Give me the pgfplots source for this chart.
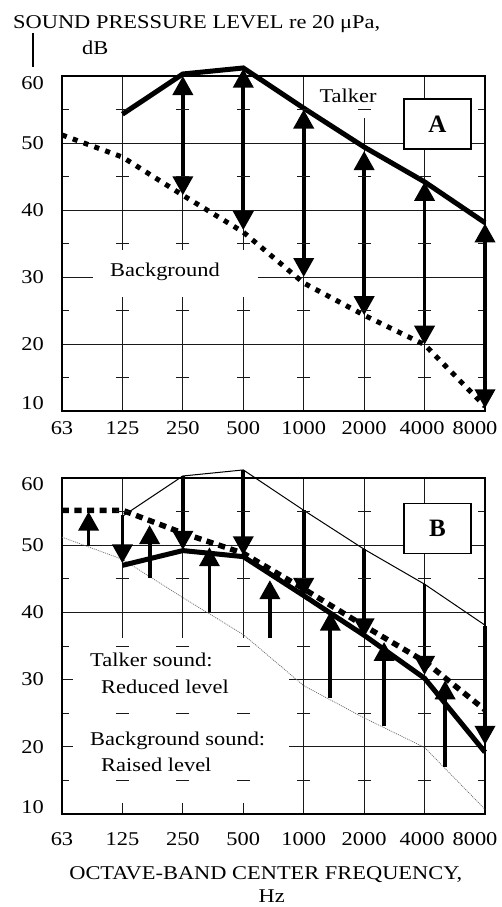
\documentclass[border=0pt]{standalone}
\usepackage{pgfplots}
\pgfplotsset{compat=1.18}
\usetikzlibrary{arrows.meta}
\usepackage{fontspec}
\setmainfont{Liberation Serif}[FakeStretch=1.15]
\newfontfamily\boxfont{Liberation Serif}
\newcommand\fs{\fontsize{19.5}{23}\selectfont}

\pgfplotsset{
  panel/.style={
    scale only axis, width=423pt, xmin=0, xmax=7, ymin=10, ymax=60,
    clip=false, anchor=south west,
    xtick={0,...,7}, ytick={10,20,...,60},
    minor ytick={15,25,...,55},
    grid=major,
    major grid style={line width=1pt, black!90},
    axis line style={line width=1.1pt, black},
    major tick length=0pt,
    minor tick length=7pt,
    tick align=inside,
    minor tick style={line width=1pt, black!90},
    tick label style={font=\fs},
    xticklabels={63,125,250,500,1000,2000,\hspace*{-5pt}4000,\hspace*{-20pt}8000},
    xticklabel style={anchor=north, inner sep=0pt},
    yticklabel style={anchor=east, inner sep=0pt, xshift=-18pt},
  },
  crosses/.style={only marks, mark=-, mark size=6.5pt, mark options={line width=1pt, black!90}},
  thickline/.style={black, line width=5pt, mark=none},
  dottedA/.style={black, line width=5pt, dash pattern=on 5pt off 6.5pt, mark=none},
  dottedB/.style={black, line width=5.5pt, dash pattern=on 7pt off 5.5pt, mark=none},
}
\tikzset{
  tri/.tip={Triangle[width=20pt, length=19pt]},
  lbl/.style={anchor=base west, inner sep=0pt, font=\fs},
}

\begin{document}
\fs
\begin{tikzpicture}
\useasboundingbox (0pt,0pt) rectangle (501pt,-907pt);

% ---------------- Panel A ----------------
\begin{axis}[panel, at={(62pt,-411pt)}, height=335pt,
  yticklabels={\raisebox{7.5pt}[\height][\depth]{10},20,30,40,50,\raisebox{-7pt}[\height][\depth]{60}},
  xticklabel style={yshift=-10.7pt}]
\addplot[crosses] coordinates {
 (1,15)(1,25)(1,35)(1,45)(1,55)
 (2,15)(2,25)(2,35)(2,45)(2,55)
 (3,15)(3,25)(3,35)(3,45)(3,55)
 (4,15)(4,25)(4,35)(4,45)(4,55)
 (5,15)(5,25)(5,35)(5,45)(5,55)
 (6,15)(6,25)(6,35)(6,45)(6,55)};
\fill[white] (axis cs:0.513,27.0) rectangle (axis cs:3.245,34.0);
\fill[white] (axis cs:4.16,53.8) rectangle (axis cs:5.35,59.8);
% background
\addplot[dottedA] coordinates {(0,51.2)(1,47.9)(2,42.2)(3,36.7)(4,29.1)(5,24.3)(6,19.9)(7,10.7)};
% talker
\addplot[thickline] coordinates {(1,54.3)(2,60.3)(3,61.2)(4,55.2)(5,49.4)(6,44.2)(7,38.1)};
% double arrows talker -> background
\addplot[black, line width=3.8pt, {tri}-{tri}, quiver={u=0, v=\thisrow{dy}}] table {
x y dy
2 60.0 -17.8
3 61.1 -24.1
4 55.0 -25.0
5 48.8 -24.5
6 44.2 -24.3
7 38.0 -27.6
};
\end{axis}

% ---------------- Panel B ----------------
\begin{axis}[panel, at={(62pt,-814pt)}, height=336pt,
  yticklabels={\raisebox{7pt}[\height][\depth]{10},20,30,40,50,\raisebox{-6pt}[\height][\depth]{60}},
  xticklabel style={yshift=-18pt}]
\addplot[crosses] coordinates {
 (1,15)(1,25)(1,35)(1,45)(1,55)
 (2,15)(2,25)(2,35)(2,45)(2,55)
 (3,15)(3,25)(3,35)(3,45)(3,55)
 (4,15)(4,25)(4,35)(4,45)(4,55)
 (5,15)(5,25)(5,35)(5,45)(5,55)
 (6,15)(6,25)(6,35)(6,45)(6,55)};
\fill[white] (axis cs:0.18,11.6) rectangle (axis cs:3.75,36.2);
% original background (thin dotted)
\addplot[black!60, line width=0.7pt, dash pattern=on 1pt off 1pt, mark=none] coordinates {(0,51.2)(1,47.9)(2,42.2)(3,36.7)(4,29.1)(5,24.3)(6,19.9)(7,10.7)};
% original talker (thin)
\addplot[black, line width=1pt, mark=none] coordinates {(1,54.3)(2,60.3)(3,61.2)(4,55.2)(5,49.4)(6,44.2)(7,38.1)};
% raised background
\addplot[dottedB] coordinates {(0,55.2)(1,55.2)(2,51.8)(3,48.8)(4,43.5)(5,38.0)(6,32.7)(7,25.5)};
% reduced talker
\addplot[thickline] coordinates {(1,47.0)(2,49.2)(3,48.3)(4,42.5)(5,36.6)(6,30.2)(7,19.2)};
% down arrows (talker reduced)
\addplot[black, line width=3.8pt, -{tri}, quiver={u=0, v=\thisrow{dy}}] table {
x y dy
1 54.5 -7.2
2 60.3 -11.0
3 61.2 -12.7
4 55.2 -12.9
5 49.4 -13.1
6 44.2 -13.5
7 38.0 -17.7
};
% up arrows (background raised)
\addplot[black, line width=3.8pt, -{tri}, quiver={u=0, v=\thisrow{dy}}] table {
x y dy
0.44 49.9 5.1
1.45 45.1 7.9
2.44 40.1 9.6
3.44 36.2 8.6
4.44 27.3 12.8
5.33 23.1 12.5
6.34 17.0 12.9
};
\end{axis}

% ---------------- texts ----------------
\node[lbl] at (13pt,-28.3pt) {SOUND PRESSURE LEVEL re 20 μPa,};
\node[lbl] at (82pt,-55pt) {dB};
\draw[line width=1.2pt] (33pt,-33pt) -- (33pt,-67pt);

\node[lbl] at (110pt,-276.7pt) {Background};
\node[lbl] at (319.3pt,-102.7pt) {Talker};

\node[draw, line width=1.2pt, fill=white, minimum width=67pt, minimum height=50pt, inner sep=0pt,
  font=\boxfont\bfseries\fontsize{25}{25}\selectfont] at (437.5pt,-124pt) {A};
\node[draw, line width=1.2pt, fill=white, minimum width=67pt, minimum height=50pt, inner sep=0pt,
  font=\boxfont\bfseries\fontsize{25}{25}\selectfont] at (437.5pt,-528.5pt) {B};

\node[lbl] at (90pt,-666.7pt) {Talker sound:};
\node[lbl] at (101pt,-693.3pt) {Reduced level};
\node[lbl] at (90pt,-745pt) {Background sound:};
\node[lbl] at (101pt,-771.7pt) {Raised level};

\node[anchor=base, inner sep=0pt, font=\fs] at (265.8pt,-879pt) {OCTAVE-BAND CENTER FREQUENCY,};
\node[anchor=base, inner sep=0pt, font=\fs] at (271.7pt,-902pt) {Hz};
\end{tikzpicture}
\end{document}
